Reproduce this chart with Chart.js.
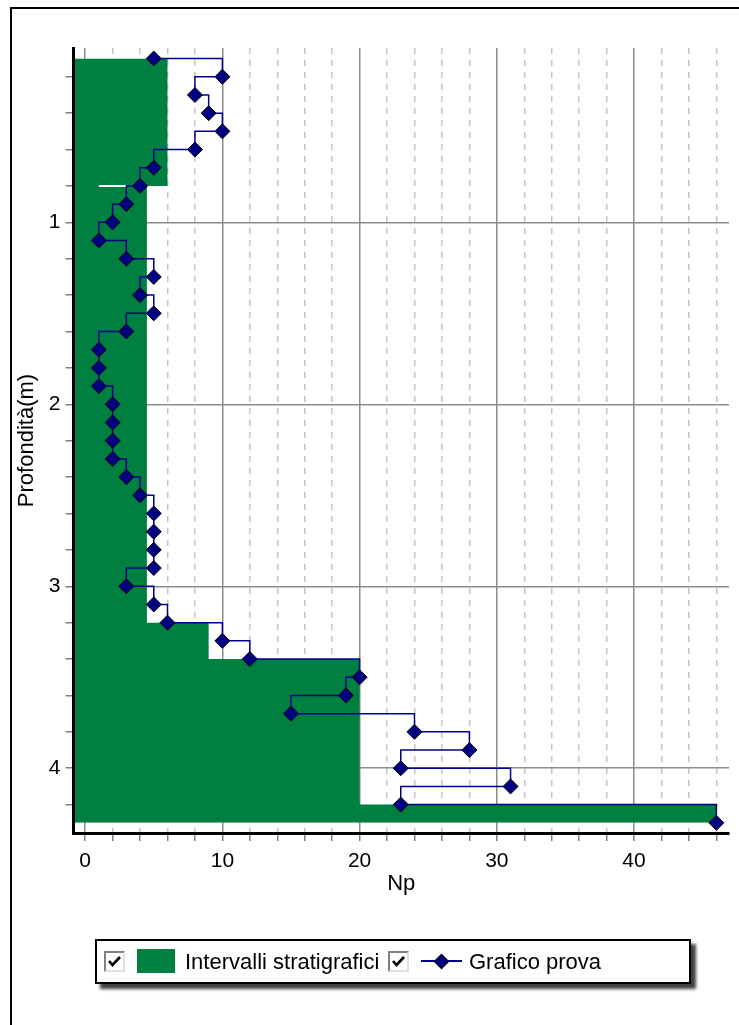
<!DOCTYPE html>
<html lang="it">
<head>
  <meta charset="UTF-8">
  <title>Grafico prova</title>
  <script src="https://cdn.jsdelivr.net/npm/chart.js"></script>
  <style>
    body {
      margin: 0;
      background: #fff;
      overflow: hidden;
      font-family: "Liberation Sans", Arial, sans-serif;
    }
    #frame {
      position: absolute;
      left: 10px;
      top: 7px;
      width: 800px;
      height: 1100px;
      border-left: 2px solid #000;
      border-top: 2px solid #000;
    }
    #chart { position: absolute; left: 0; top: 0; }
    #legend {
      position: absolute;
      left: 95px;
      top: 939px;
      width: 592px;
      height: 41px;
      border: 2px solid #000;
      background: #fff;
      box-shadow: 5px 5px 3px rgba(0,0,0,0.75);
    }
    #legend > * { position: absolute; }
    .check {
      top: 10px;
      width: 17px;
      height: 17px;
      border: 2px solid;
      border-color: #808080 #e0e0e0 #e0e0e0 #808080;
      background: #fff;
    }
    .label {
      top: 0;
      line-height: 41px;
      font-size: 22px;
      color: #000;
      white-space: nowrap;
    }
  </style>
</head>
<body>
  <div id="frame"></div>
  <canvas id="chart" width="739" height="1025"></canvas>
  <div id="legend"></div>

  <script>
    // prova penetrometrica: colpi Np ogni 10 cm
    const depth = [0.1, 0.2, 0.3, 0.4, 0.5, 0.6, 0.7, 0.8, 0.9, 1.0,
                   1.1, 1.2, 1.3, 1.4, 1.5, 1.6, 1.7, 1.8, 1.9, 2.0,
                   2.1, 2.2, 2.3, 2.4, 2.5, 2.6, 2.7, 2.8, 2.9, 3.0,
                   3.1, 3.2, 3.3, 3.4, 3.5, 3.6, 3.7, 3.8, 3.9, 4.0,
                   4.1, 4.2, 4.3];
    const np = [5, 10, 8, 9, 10, 8, 5, 4, 3, 2,
                1, 3, 5, 4, 5, 3, 1, 1, 1, 2,
                2, 2, 2, 3, 4, 5, 5, 5, 5, 3,
                5, 6, 10, 12, 20, 19, 15, 24, 28, 23,
                31, 23, 46];

    // intervalli stratigrafici
    const layerTop = [0.1, 0.8, 3.2, 3.4, 4.2];
    const layerBottom = [0.8, 3.2, 3.4, 4.2, 4.3];
    const layerNp = [6, 4.5, 9, 20, 46];

    // piccolo segno bianco a 0.8 m
    const strayNp = [1, 3];
    const strayDepth = [0.8, 0.8];

    const xTicks = [0, 2, 4, 6, 8, 10, 12, 14, 16, 18, 20, 22, 24, 26, 28, 30, 32, 34, 36, 38, 40, 42, 44, 46];
    const xLabels = [0, 10, 20, 30, 40];
    const yTicks = [0.2, 0.4, 0.6, 0.8, 1, 1.2, 1.4, 1.6, 1.8, 2, 2.2, 2.4, 2.6, 2.8, 3, 3.2, 3.4, 3.6, 3.8, 4, 4.2];
    const yLabels = [1, 2, 3, 4];

    const seriesNames = ['Intervalli stratigrafici', 'Grafico prova'];
    const X_MIN = -0.85, X_MAX = 46.92;
    const Y_MIN = 0.042, Y_MAX = 4.356;

    const green = '#008040';
    const navy = '#000080';

    const layerPoints = layerTop.map((t, i) => ({ x: layerNp[i], y: t }));
    layerPoints.push({ x: layerNp[layerNp.length - 1], y: layerBottom[layerBottom.length - 1] });

    Chart.defaults.font.family = '"Liberation Sans", Arial, sans-serif';

    const chart = new Chart(document.getElementById('chart'), {
      type: 'line',
      data: {
        datasets: [
          {
            label: seriesNames[0],
            data: layerPoints,
            stepped: 'after',
            fill: { value: X_MIN },
            backgroundColor: green,
            borderColor: green,
            borderWidth: 0,
            pointRadius: 0,
            order: 3
          },
          {
            label: '',
            data: strayNp.map((v, i) => ({ x: v, y: strayDepth[i] })),
            borderColor: '#fff',
            borderWidth: 2,
            pointRadius: 0,
            fill: false,
            order: 2
          },
          {
            label: seriesNames[1],
            data: np.map((v, i) => ({ x: v, y: depth[i] })),
            stepped: 'before',
            borderColor: '#00008c',
            borderWidth: 1.5,
            fill: false,
            pointStyle: 'rectRot',
            pointRadius: 7.5,
            pointBackgroundColor: navy,
            pointBorderColor: '#000',
            pointBorderWidth: 1,
            order: 1
          }
        ]
      },
      options: {
        indexAxis: 'y',
        responsive: false,
        animation: false,
        events: [],
        layout: { padding: { left: 0, top: 48, right: 10, bottom: 122 } },
        plugins: {
          legend: { display: false },
          tooltip: { enabled: false }
        },
        scales: {
          x: {
            type: 'linear',
            position: 'bottom',
            min: X_MIN,
            max: X_MAX,
            afterBuildTicks: s => { s.ticks = xTicks.map(v => ({ value: v })); },
            afterFit: s => { s.height = 70; },
            ticks: {
              autoSkip: false,
              maxRotation: 0,
              padding: 8,
              color: '#000',
              font: { size: 21 },
              callback: v => xLabels.includes(v) ? String(v) : ''
            },
            grid: {
              color: ctx => (ctx.tick && xLabels.includes(ctx.tick.value)) ? 'rgba(0,0,0,0)' : '#c4c4c4',
              lineWidth: 1.5,
              tickColor: '#808080',
              tickLength: 8,
              tickWidth: 1.5
            },
            border: { color: '#000', width: 3, dash: [6, 6], z: 1 },
            title: {
              display: true,
              text: 'Np',
              color: '#000',
              font: { size: 22 },
              padding: { top: 0, bottom: 6 }
            }
          },
          xMajor: {
            type: 'linear',
            axis: 'x',
            position: 'top',
            min: X_MIN,
            max: X_MAX,
            afterBuildTicks: s => { s.ticks = xLabels.map(v => ({ value: v })); },
            afterFit: s => { s.height = 0; },
            ticks: { display: false },
            grid: { color: '#8c8c8c', lineWidth: 1.5, drawTicks: false },
            border: { display: false }
          },
          y: {
            type: 'linear',
            position: 'left',
            reverse: true,
            min: Y_MIN,
            max: Y_MAX,
            afterBuildTicks: s => { s.ticks = yTicks.map(v => ({ value: v })); },
            afterFit: s => { s.width = 73.5; },
            ticks: {
              autoSkip: false,
              padding: 5,
              color: '#000',
              font: { size: 21 },
              callback: v => yLabels.includes(v) ? String(v) : ''
            },
            grid: {
              color: ctx => (ctx.tick && yLabels.includes(ctx.tick.value)) ? '#8c8c8c' : 'rgba(0,0,0,0)',
              lineWidth: 1.5,
              tickColor: '#808080',
              tickLength: 8,
              tickWidth: 1.5
            },
            border: { color: '#000', width: 3, z: 1 },
            title: {
              display: true,
              text: 'Profondità(m)',
              color: '#000',
              font: { size: 22 },
              padding: { top: 14, bottom: 0 }
            }
          }
        }
      }
    });

    // legenda in stile finestra, costruita dai nomi delle serie
    const checkSvg = '<svg width="17" height="17"><polyline points="3,8 6.5,12 14,4" fill="none" stroke="#000" stroke-width="2.6"/></svg>';
    const legend = document.getElementById('legend');
    legend.innerHTML =
      '<div class="check" style="left:7px">' + checkSvg + '</div>' +
      '<div style="left:40px;top:8px;width:38px;height:24px;background:' + chart.data.datasets[0].backgroundColor + '"></div>' +
      '<div class="label" style="left:88px">' + chart.data.datasets[0].label + '</div>' +
      '<div class="check" style="left:291px">' + checkSvg + '</div>' +
      '<div style="left:324px;top:19px;width:41px;height:2px;background:#00008c"></div>' +
      '<div style="left:339px;top:15px;width:9px;height:9px;background:' + navy + ';border:1px solid #000;transform:rotate(45deg)"></div>' +
      '<div class="label" style="left:372px">' + chart.data.datasets[2].label + '</div>';
  </script>
</body>
</html>
